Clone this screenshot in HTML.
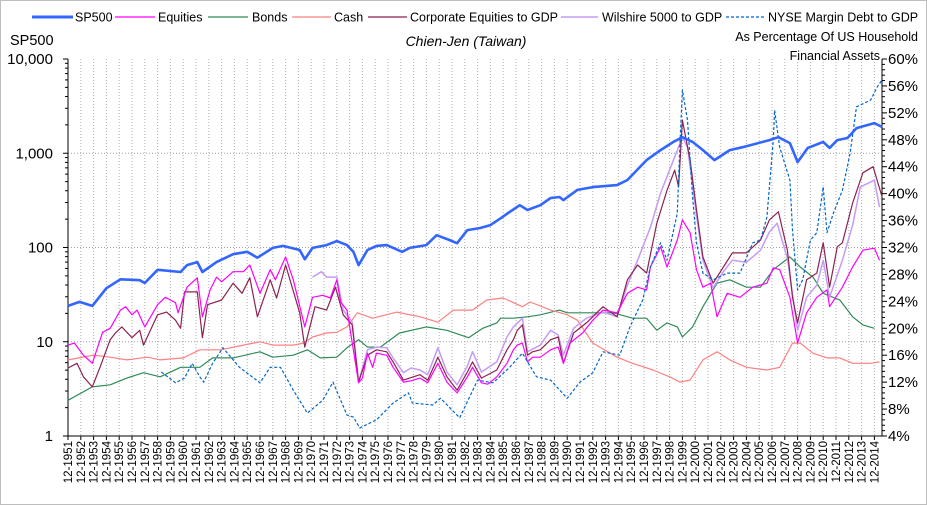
<!DOCTYPE html>
<html><head><meta charset="utf-8"><style>
html,body{margin:0;padding:0;background:#fff;}
svg{display:block;font-family:"Liberation Sans",sans-serif;}
</style></head><body>
<svg id="chart" width="927" height="505" viewBox="0 0 927 505" xmlns="http://www.w3.org/2000/svg">
<rect x="0.5" y="0.5" width="926" height="504" fill="#fff" stroke="#bdbdbd"/>
<g id="grid"></g>
<g id="axes"></g>
<g id="series"></g>
<g font-size="12.5" fill="#000">
 <g><line x1="32" y1="17" x2="73" y2="17" stroke="#3366ff" stroke-width="3"/><text x="75" y="21.5">SP500</text></g>
 <g><line x1="115" y1="17" x2="155" y2="17" stroke="#ff00ff" stroke-width="1.2"/><text x="158" y="21.5">Equities</text></g>
 <g><line x1="208" y1="17" x2="248" y2="17" stroke="#2e8b57" stroke-width="1.2"/><text x="252" y="21.5">Bonds</text></g>
 <g><line x1="292" y1="17" x2="331" y2="17" stroke="#ff8080" stroke-width="1.2"/><text x="334" y="21.5">Cash</text></g>
 <g><line x1="368" y1="17" x2="407" y2="17" stroke="#8b2252" stroke-width="1.2"/><text x="410" y="21.5">Corporate Equities to GDP</text></g>
 <g><line x1="561" y1="17" x2="598" y2="17" stroke="#c59bf5" stroke-width="1.5"/><text x="602" y="21.5">Wilshire 5000 to GDP</text></g>
 <g><line x1="726" y1="17" x2="764" y2="17" stroke="#0066cc" stroke-width="1.2" stroke-dasharray="3,2"/><text x="768" y="21.5">NYSE Margin Debt to GDP</text></g>
</g>
<text x="10" y="45" font-size="14.5">SP500</text>
<text x="466" y="46" font-size="14" font-style="italic" text-anchor="middle">Chien-Jen (Taiwan)</text>
<text x="918" y="41" font-size="12.5" text-anchor="end">As Percentage Of US Household</text>
<text x="880" y="60" font-size="12.5" text-anchor="end">Financial Assets</text>
</svg>
<script>
const leftTicks = [1, 10, 100, 1000, 10000];
const leftTickLabels = ["1", "10", "100", "1,000", "10,000"];
const rightTicks = [4, 8, 12, 16, 20, 24, 28, 32, 36, 40, 44, 48, 52, 56, 60];
const yearLabels = [];
for (let yy = 1951; yy <= 2014; yy++) yearLabels.push("12-" + yy);

const sp500 = [[1952.0,24],[1952.9,26.5],[1953.9,24],[1955.0,37],[1956.1,46],[1957.6,45],[1958.0,42],[1959.0,58],[1960.8,55],[1961.3,65],[1962.1,70],[1962.5,55],[1963.6,70],[1964.9,85],[1966.0,90],[1966.8,78],[1968.0,99],[1968.8,104],[1970.1,94],[1970.5,75],[1971.1,99],[1972.2,106],[1973.0,117],[1973.8,106],[1974.3,90],[1974.7,65],[1975.4,94],[1976.1,104],[1976.9,106],[1978.1,90],[1978.7,99],[1980.0,106],[1980.8,135],[1981.8,120],[1982.4,111],[1983.2,153],[1984.2,161],[1985.0,173],[1985.8,204],[1986.5,238],[1987.3,281],[1987.9,250],[1988.9,281],[1989.7,335],[1990.4,343],[1990.7,318],[1991.8,408],[1993.0,437],[1994.9,459],[1995.7,520],[1997.2,845],[1998.3,1080],[1999.3,1320],[2000.0,1480],[2000.8,1320],[2001.6,1080],[2002.5,845],[2003.7,1080],[2004.7,1160],[2006.8,1380],[2007.5,1480],[2008.4,1280],[2009.0,805],[2009.8,1140],[2011.0,1320],[2011.5,1140],[2012.1,1380],[2012.9,1450],[2013.6,1850],[2015.0,2090],[2015.6,1900]];

const equities = [[1952.0,17.5],[1952.5,17.8],[1953.2,16.0],[1953.9,14.8],[1954.7,19.4],[1955.3,20.0],[1956.1,22.7],[1956.5,23.2],[1957.0,22.0],[1957.4,22.7],[1958.0,20.2],[1959.0,23.5],[1959.6,24.6],[1960.0,24.2],[1960.4,23.8],[1960.6,22.3],[1961.3,26.1],[1962.1,27.5],[1962.5,21.7],[1963.1,25.7],[1963.6,27.6],[1964.0,26.9],[1964.9,28.4],[1965.7,28.4],[1966.2,29.4],[1967.0,25.2],[1967.8,28.7],[1968.2,27.2],[1969.0,30.6],[1969.6,27.2],[1970.5,20.2],[1971.1,24.6],[1971.9,24.9],[1972.5,24.5],[1973.0,27.2],[1973.3,23.9],[1973.8,22.7],[1974.7,11.9],[1975.0,12.6],[1975.4,16.3],[1975.8,14.2],[1976.1,16.3],[1976.9,16.0],[1977.4,14.2],[1978.2,12.0],[1978.8,12.2],[1979.5,12.6],[1980.1,11.9],[1980.9,14.8],[1981.6,12.0],[1982.4,10.4],[1983.2,12.8],[1983.6,14.2],[1984.3,11.9],[1984.8,11.7],[1985.5,12.8],[1986.3,14.8],[1986.8,16.8],[1987.1,17.5],[1987.5,17.8],[1987.9,15.0],[1988.3,15.7],[1988.9,15.7],[1989.7,16.8],[1990.3,17.2],[1990.7,14.8],[1991.2,17.8],[1992.2,19.3],[1993.0,21.2],[1993.8,22.7],[1994.9,22.3],[1995.7,25.2],[1996.5,26.1],[1997.2,25.7],[1997.5,29.1],[1998.3,32.1],[1998.8,29.1],[1999.6,33.1],[2000.0,36.1],[2000.6,34.2],[2001.1,28.7],[2001.6,26.1],[2002.2,26.7],[2002.7,21.7],[2003.5,25.2],[2004.5,24.6],[2005.5,26.1],[2006.6,26.7],[2007.1,29.0],[2007.6,28.7],[2008.4,24.6],[2009.0,17.8],[2009.7,22.3],[2010.5,24.6],[2011.3,25.7],[2011.5,23.2],[2012.5,26.1],[2013.3,29.1],[2014.1,31.6],[2015.0,31.9],[2015.4,30.1]];

const corpEquitiesGdp = [[1952.0,14.1],[1952.7,14.8],[1953.2,12.8],[1953.9,11.3],[1954.5,14.2],[1955.3,18.3],[1955.7,19.3],[1956.2,20.2],[1957.0,18.6],[1957.6,19.7],[1957.9,17.5],[1959.0,22.0],[1959.7,22.4],[1960.4,21.2],[1960.8,20.0],[1961.1,25.4],[1962.1,25.4],[1962.5,18.6],[1962.9,23.5],[1964.0,24.2],[1964.9,26.7],[1965.6,25.2],[1966.2,27.5],[1966.8,21.7],[1967.8,27.2],[1968.3,24.5],[1969.0,29.4],[1970.1,22.3],[1970.5,17.2],[1971.3,23.2],[1972.2,22.7],[1972.9,26.1],[1973.5,22.0],[1974.2,20.5],[1974.7,12.0],[1975.4,16.0],[1976.1,16.8],[1976.9,16.5],[1977.4,15.0],[1978.2,12.3],[1979.5,13.1],[1980.1,12.3],[1980.9,15.7],[1981.6,12.8],[1982.4,10.8],[1983.2,13.5],[1983.6,15.0],[1984.3,12.6],[1985.5,13.8],[1986.3,16.8],[1986.8,18.3],[1987.1,19.7],[1987.5,20.5],[1987.9,16.0],[1988.3,16.5],[1988.9,16.8],[1989.7,18.3],[1990.3,18.7],[1990.7,14.8],[1991.5,19.3],[1992.5,20.8],[1993.8,23.2],[1994.9,21.7],[1995.7,27.2],[1996.5,29.4],[1997.2,28.2],[1998.0,35.6],[1998.8,40.5],[1999.4,43.5],[1999.7,41.0],[2000.0,50.9],[2000.6,45.0],[2001.1,37.6],[2001.6,30.6],[2002.4,26.7],[2003.2,29.1],[2003.9,31.2],[2005.0,31.2],[2006.1,33.1],[2006.8,36.1],[2007.5,37.3],[2008.2,31.6],[2008.6,24.6],[2009.0,20.8],[2009.7,27.2],[2010.5,28.2],[2011.0,32.7],[2011.5,26.1],[2012.1,32.1],[2012.5,32.7],[2013.3,38.6],[2014.1,43.1],[2014.9,44.0],[2015.6,39.5]];

const wilshireGdp = [[1971.1,27.6],[1971.8,28.4],[1972.2,27.6],[1973.0,27.6],[1973.5,22.7],[1974.2,20.9],[1974.7,12.0],[1975.4,16.8],[1976.1,17.2],[1976.9,17.1],[1977.4,15.6],[1978.2,13.4],[1978.8,14.1],[1979.5,13.8],[1980.1,13.1],[1980.9,17.1],[1981.6,13.5],[1982.4,11.6],[1983.2,14.4],[1983.6,16.5],[1984.3,13.5],[1985.5,15.0],[1986.3,18.7],[1986.8,20.2],[1987.5,21.5],[1987.9,16.5],[1988.9,17.5],[1989.7,19.7],[1990.3,19.0],[1990.7,16.0],[1991.5,20.0],[1992.5,21.5],[1993.8,22.4],[1994.9,21.7],[1995.7,26.4],[1996.5,30.1],[1997.5,35.0],[1998.3,40.1],[1999.2,44.5],[2000.0,48.4],[2000.4,46.9],[2001.1,36.8],[2001.6,30.1],[2002.4,26.0],[2003.2,28.4],[2003.9,30.1],[2005.0,29.8],[2006.1,31.6],[2006.8,34.3],[2007.4,35.6],[2008.2,30.4],[2009.0,19.7],[2009.7,24.6],[2010.5,26.4],[2011.0,30.1],[2011.5,24.6],[2012.5,30.1],[2013.3,35.3],[2013.9,41.0],[2015.0,42.0],[2015.4,38.0]];

const bonds = [[1952.0,9.3],[1953.9,11.3],[1955.3,11.6],[1956.6,12.6],[1957.9,13.4],[1959.2,12.8],[1960.8,14.2],[1962.3,14.2],[1963.3,15.6],[1964.9,15.6],[1967.0,16.5],[1968.0,15.7],[1969.6,16.0],[1970.7,16.8],[1971.7,15.6],[1973.0,15.7],[1973.8,17.1],[1974.7,18.3],[1975.4,17.2],[1976.4,17.2],[1977.9,19.3],[1980.0,20.2],[1981.6,19.7],[1983.3,18.6],[1984.4,20.0],[1985.5,20.8],[1985.8,21.5],[1986.8,21.5],[1987.9,21.7],[1988.9,22.0],[1990.4,22.7],[1991.0,22.3],[1992.0,22.3],[1994.6,22.3],[1996.1,21.5],[1997.2,21.5],[1998.0,19.7],[1998.8,20.8],[1999.6,20.2],[2000.0,18.7],[2000.8,20.2],[2001.6,23.2],[2002.7,26.7],[2003.7,27.2],[2005.0,26.1],[2006.1,26.1],[2007.1,28.7],[2008.4,30.6],[2009.2,29.1],[2010.2,27.6],[2011.0,25.2],[2012.3,24.2],[2013.3,21.7],[2014.1,20.5],[2015.0,20.0]];

const cash = [[1952.0,15.3],[1954.0,16.0],[1955.3,15.7],[1956.6,15.3],[1958.2,15.7],[1959.2,15.3],[1961.0,15.6],[1962.3,16.8],[1963.9,16.8],[1965.7,17.5],[1967.0,18.0],[1968.0,17.5],[1969.6,17.5],[1970.4,17.8],[1971.1,18.7],[1972.2,19.3],[1973.0,19.4],[1973.8,20.2],[1974.6,22.3],[1975.8,21.5],[1977.7,22.4],[1979.5,21.7],[1980.9,20.9],[1982.1,22.7],[1983.6,22.7],[1984.7,24.2],[1986.0,24.5],[1987.5,23.2],[1988.1,23.9],[1989.7,22.7],[1991.0,22.0],[1991.8,21.2],[1993.0,17.8],[1994.9,15.7],[1996.1,14.8],[1997.7,13.8],[1999.0,12.8],[1999.8,12.0],[2000.6,12.3],[2001.6,15.3],[2002.7,16.5],[2003.7,15.3],[2005.0,14.2],[2006.6,13.8],[2007.6,14.2],[2008.6,17.8],[2009.2,17.8],[2010.2,16.3],[2011.3,15.6],[2012.3,15.6],[2013.3,14.8],[2014.7,14.8],[2015.4,15.0]];

const marginDebt = [[1959.3,13.5],[1960.4,11.9],[1961.1,12.6],[1961.7,14.8],[1962.3,12.8],[1962.6,12.0],[1963.3,14.8],[1964.1,17.1],[1965.4,14.2],[1967.0,11.9],[1967.8,14.2],[1968.6,14.2],[1969.6,10.8],[1970.7,7.4],[1971.9,9.3],[1972.7,12.0],[1973.8,7.1],[1974.3,6.8],[1974.8,5.2],[1976.1,6.4],[1977.4,8.9],[1978.6,10.4],[1978.9,8.9],[1980.5,8.6],[1981.1,9.6],[1982.6,6.7],[1984.0,12.3],[1985.2,11.9],[1986.5,14.2],[1987.5,16.3],[1988.6,12.8],[1989.7,12.3],[1991.0,9.6],[1992.0,12.0],[1993.0,13.4],[1993.8,16.5],[1995.1,16.0],[1995.9,20.2],[1996.9,24.2],[1997.5,29.1],[1998.3,32.7],[1998.8,30.1],[1999.6,37.1],[1999.8,46.9],[2000.0,55.4],[2000.4,50.9],[2000.8,39.5],[2001.1,32.7],[2001.6,28.2],[2002.4,27.2],[2003.5,28.2],[2004.5,28.2],[2005.5,32.7],[2006.1,33.1],[2006.6,36.5],[2007.1,48.0],[2007.2,52.4],[2007.6,46.9],[2008.4,42.0],[2008.6,34.6],[2009.0,25.7],[2009.4,27.2],[2010.0,33.1],[2010.5,34.2],[2011.0,41.0],[2011.3,34.2],[2011.8,37.1],[2012.5,40.5],[2013.1,46.0],[2013.6,52.9],[2014.7,53.9],[2015.2,55.8],[2015.6,56.9]];

const NS = "http://www.w3.org/2000/svg";
const L = 68, R = 882, T = 59, B = 436;
function xScale(t) { return L + (t - 1952) * 12.8; }
function yLeft(v) { return B - (Math.log10(v) / 4) * (B - T); }
function yRight(p) { return B - ((p - 4) / 56) * (B - T); }
function mk(tag, attrs, parent) {
  const e = document.createElementNS(NS, tag);
  for (const k in attrs) e.setAttribute(k, attrs[k]);
  parent.appendChild(e);
  return e;
}
const grid = document.getElementById("grid");
const axes = document.getElementById("axes");
const series = document.getElementById("series");

// vertical grid + x labels
yearLabels.forEach((lab, i) => {
  const x = xScale(1952 + i);
  const gl = mk("line", {x1: x, y1: T, x2: x, y2: B, stroke: "#b0b0b0", "stroke-width": 1, "stroke-dasharray": "1,2"}, grid);
  
  
  const tk = mk("line", {x1: x, y1: B, x2: x, y2: B + 4, stroke: "#000"}, axes);
  
  
  const tx = mk("text", {x: 0, y: 0, "font-size": 11.5, "text-anchor": "end", transform: "translate(" + (x + 4) + "," + (B + 5) + ") rotate(-90)"}, axes);
  tx.textContent = lab;
  
  
});
// horizontal grid at decades
leftTicks.forEach((v, i) => {
  const y = yLeft(v);
  if (v > 1 && v < 10000) {
    const gl = mk("line", {x1: L, y1: y, x2: R, y2: y, stroke: "#a0a0a0", "stroke-dasharray": "1,2"}, grid);
    
    
  }
  const tk = mk("line", {x1: L - 5, y1: y, x2: L, y2: y, stroke: "#000"}, axes);
  
  
  const tx = mk("text", {x: L - 15, y: y + 5, "font-size": 15, "text-anchor": "end"}, axes);
  tx.textContent = leftTickLabels[i];
  
  
  if (v < 10000) for (let m = 2; m <= 9; m++) {
    const ym = yLeft(v * m);
    const mt = mk("line", {x1: L - 3, y1: ym, x2: L, y2: ym, stroke: "#000"}, axes);
    
    
  }
});
rightTicks.forEach((p, i) => {
  const y = yRight(p);
  const tk = mk("line", {x1: R, y1: y, x2: R + 5, y2: y, stroke: "#000"}, axes);
  
  
  const tx = mk("text", {x: R + 6, y: y + 5, "font-size": 15}, axes);
  tx.textContent = p + "%";
  
  
  if (i < rightTicks.length - 1) for (let m = 1; m < 5; m++) {
    const ym = yRight(p + m * 0.8);
    const mt = mk("line", {x1: R, y1: ym, x2: R + 3, y2: ym, stroke: "#000"}, axes);
    
    
  }
});
const ax1 = mk("line", {x1: L, y1: T, x2: L, y2: B, stroke: "#000"}, axes);


const ax2 = mk("line", {x1: R, y1: T, x2: R, y2: B, stroke: "#000"}, axes);


const ax3 = mk("line", {x1: L, y1: B, x2: R, y2: B, stroke: "#000"}, axes);



function drawLine(data, yfn, color, width, dash, name) {
  const d = data.map((p, i) => (i ? "L" : "M") + xScale(p[0]).toFixed(1) + "," + yfn(p[1]).toFixed(1)).join(" ");
  const attrs = {d: d, fill: "none", stroke: color, "stroke-width": width, "stroke-linejoin": "round"};
  if (dash) attrs["stroke-dasharray"] = dash;
  const path = mk("path", attrs, series);
  
  
}
drawLine(bonds, yRight, "#2e8b57", 1.2, null, "bonds-line");
drawLine(cash, yRight, "#ff8080", 1.2, null, "cash-line");
drawLine(wilshireGdp, yRight, "#c59bf5", 1.5, null, "wilshire-5000-to-gdp-line");
drawLine(corpEquitiesGdp, yRight, "#8b2252", 1.2, null, "corporate-equities-to-gdp-line");
drawLine(equities, yRight, "#ff00ff", 1.2, null, "equities-line");
drawLine(marginDebt, yRight, "#0066cc", 1.2, "3,2", "nyse-margin-debt-line");
drawLine(sp500, yLeft, "#3366ff", 2.6, null, "sp500-line");
</script>
</body></html>
